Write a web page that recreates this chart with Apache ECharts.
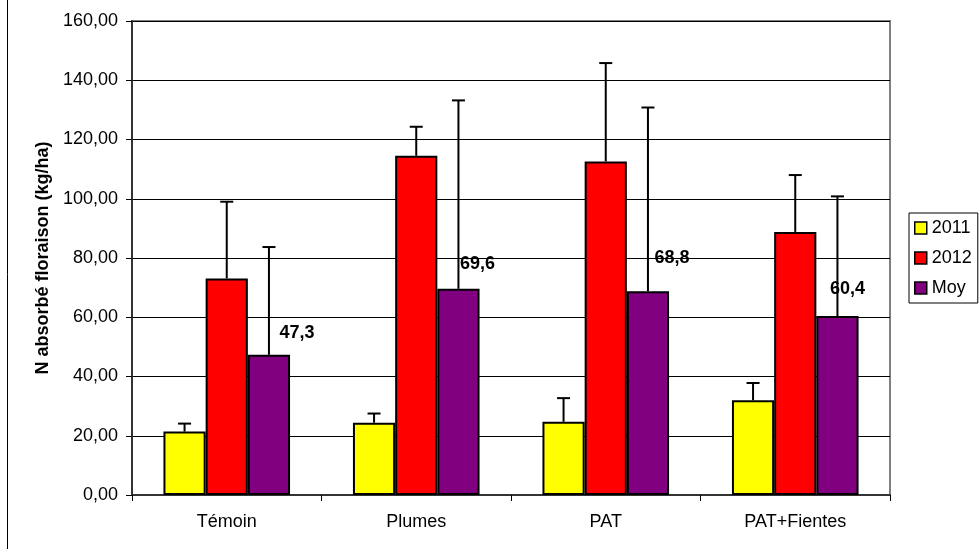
<!DOCTYPE html>
<html>
<head>
<meta charset="utf-8">
<script src="https://cdn.jsdelivr.net/npm/echarts@6/dist/echarts.min.js"></script>
<style>html,body{margin:0;padding:0;background:#fff;}#c{width:980px;height:549px;}</style>
</head>
<body>
<div id="c"></div>
<script>
// ---- data ----
var categories = ['Témoin', 'Plumes', 'PAT', 'PAT+Fientes'];
var seriesNames = ['2011', '2012', 'Moy'];
var values2011 = [21.4, 24.4, 24.7, 32.0];
var values2012 = [73.1, 114.5, 112.6, 88.8];
var valuesMoy  = [47.3, 69.6, 68.8, 60.4];
var err2011 = [2.7, 3.1, 8.0, 5.8];
var err2012 = [25.9, 9.8, 33.2, 19.2];
var errMoy  = [36.4, 63.6, 62.0, 40.4];
var yTicks = [0, 20, 40, 60, 80, 100, 120, 140, 160];

// ---- style ----
var FONT = '"Liberation Sans", Arial, sans-serif';
var colors = ['#FFFF00', '#FF0000', '#800080'];
var CAT_GAP = 0.332;
var moyLabelOffsets = [[28, -8], [19, -11], [24, -19], [10, -13]];

var allValues = [values2011, values2012, valuesMoy];
var allErrs = [err2011, err2012, errMoy];

function fmtComma(v, d) { return v.toFixed(d).replace('.', ','); }

function makeErrRender(si) {
  return function (params, api) {
    var x = api.value(0), v = api.value(1), e = api.value(2);
    var base = api.coord([x, v]);
    var top = api.coord([x, v + e]);
    var band = api.size([1, 0])[0];
    var bw = band * (1 - CAT_GAP) / 3;
    var cx = base[0] + (si - 1) * bw;
    var half = 6.5;
    return {
      type: 'group',
      children: [
        { type: 'line', shape: { x1: cx, y1: base[1], x2: cx, y2: top[1] }, style: { stroke: '#000', lineWidth: 2 } },
        { type: 'line', shape: { x1: cx - half, y1: top[1], x2: cx + half, y2: top[1] }, style: { stroke: '#000', lineWidth: 2 } }
      ]
    };
  };
}

var series = [];
seriesNames.forEach(function (name, si) {
  series.push({
    name: name,
    type: 'bar',
    barGap: '0%',
    barCategoryGap: (CAT_GAP * 100) + '%',
    itemStyle: { color: colors[si], borderColor: '#000', borderWidth: 2 },
    data: allValues[si].map(function (v, i) {
      var d = { value: v };
      if (si === 2) {
        d.label = {
          show: true, position: 'top', offset: moyLabelOffsets[i],
          formatter: function (p) { return fmtComma(p.value, 1); },
          color: '#000', fontWeight: 'bold', fontSize: 18, fontFamily: FONT
        };
      }
      return d;
    }),
    z: 2
  });
});
seriesNames.forEach(function (name, si) {
  series.push({
    name: name + ' err',
    type: 'custom',
    renderItem: makeErrRender(si),
    encode: { x: 0, y: 1 },
    data: allValues[si].map(function (v, i) { return [i, v, allErrs[si][i]]; }),
    z: 5,
    silent: true
  });
});

var chart = echarts.init(document.getElementById('c'));
chart.setOption({
  animation: false,
  backgroundColor: '#fff',
  textStyle: { fontFamily: FONT },
  grid: { left: 132, right: 90, top: 21, bottom: 54, show: true, borderColor: '#808080', borderWidth: 2, containLabel: false },
  legend: {
    data: seriesNames,
    orient: 'vertical',
    left: 909, top: 213,
    itemWidth: 12, itemHeight: 12,
    itemGap: 12,
    icon: 'rect',
    itemStyle: { borderColor: '#000', borderWidth: 1.5 },
    textStyle: { fontSize: 18, color: '#000', fontFamily: FONT },
    borderColor: '#000', borderWidth: 1,
    padding: [6, 6, 6, 5],
    backgroundColor: '#fff'
  },
  xAxis: {
    type: 'category',
    data: categories,
    axisLine: { lineStyle: { color: '#333', width: 2 } },
    axisTick: { show: true, length: 6, lineStyle: { color: '#000' } },
    axisLabel: { fontSize: 18, color: '#000', margin: 18, fontFamily: FONT },
    splitLine: { show: false }
  },
  yAxis: {
    type: 'value',
    min: yTicks[0], max: yTicks[yTicks.length - 1], interval: yTicks[1] - yTicks[0],
    name: 'N absorbé floraison (kg/ha)',
    nameLocation: 'middle',
    nameGap: 64,
    nameTextStyle: { fontSize: 18, fontWeight: 'bold', color: '#000', fontFamily: FONT },
    axisLine: { show: true, lineStyle: { color: '#333', width: 2 } },
    axisTick: { show: true, length: 6, lineStyle: { color: '#000' } },
    axisLabel: { fontSize: 18, color: '#000', margin: 14, fontFamily: FONT, formatter: function (v) { return fmtComma(v, 2); } },
    splitLine: { show: true, lineStyle: { color: '#000', width: 1 } }
  },
  graphic: [
    { type: 'line', shape: { x1: 7.5, y1: 0, x2: 7.5, y2: 549 }, style: { stroke: '#000', lineWidth: 1 } }
  ],
  series: series
});
</script>
</body>
</html>
